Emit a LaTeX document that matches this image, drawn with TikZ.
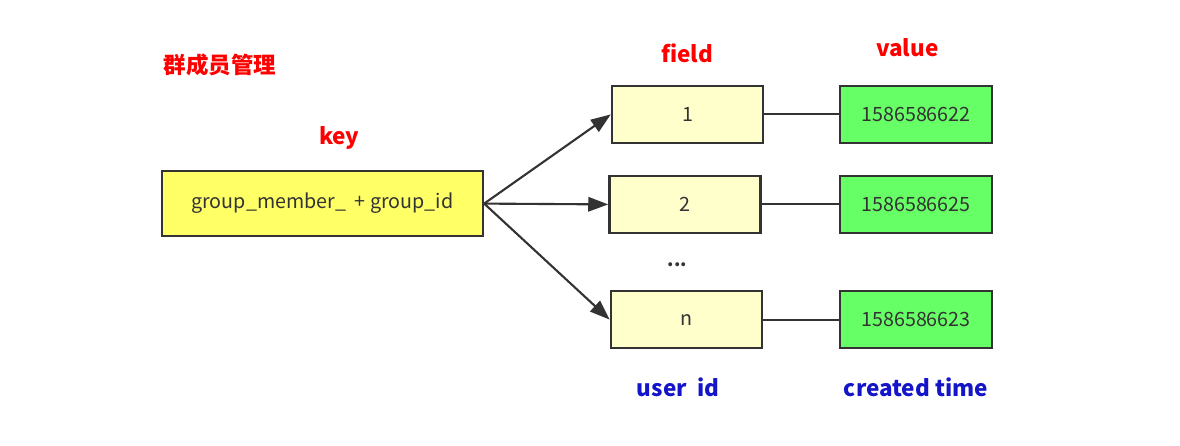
\documentclass[tikz,border=0pt]{standalone}
\usepackage{fontspec}
\setmainfont{Noto Sans CJK SC}
\usetikzlibrary{arrows.meta, positioning}

\definecolor{keyfill}{HTML}{FFFF66}
\definecolor{fieldfill}{HTML}{FFFFCC}
\definecolor{valfill}{HTML}{66FF66}
\definecolor{edgegray}{HTML}{333333}
\definecolor{labred}{HTML}{FF0000}
\definecolor{labblue}{HTML}{1414C8}

\tikzset{
  box/.style={draw=edgegray, line width=1.8pt, text=edgegray, inner sep=0pt,
    font=\fontsize{14}{16}\selectfont, minimum height=1.425cm},
  keybox/.style={box, fill=keyfill, minimum width=8.025cm, minimum height=1.625cm},
  fieldbox/.style={box, fill=fieldfill, minimum width=3.775cm},
  valbox/.style={box, fill=valfill, minimum width=3.8cm},
  redlab/.style={text=labred, font=\bfseries\fontsize{16}{19}\selectfont},
  bluelab/.style={text=labblue, font=\bfseries\fontsize{16}{19}\selectfont},
  link/.style={draw=edgegray, line width=1.5pt},
  arrow/.style={link, -{Triangle[length=0.5cm, width=0.36cm]}}
}

\begin{document}
\begin{tikzpicture}
\useasboundingbox (0,0) rectangle (29.5,-11.15);

% titles
\node[redlab] (title) at (5.5,-1.62) {群成员管理};
\node[redlab] (keylab) at (8.48,-3.45) {key};
\node[redlab] (fieldlab) at (17.18,-1.33) {field};
\node[redlab] (vallab) at (22.68,-1.18) {value};

% key
\node[keybox] (key) at (8.06,-5.09) {group\_member\_\ \ +\ group\_id};

% fields
\node[fieldbox] (f1) at (17.19,-2.86) {1};
\node[fieldbox] (f2) at (17.125,-5.11) {2};
\node[fieldbox] (fn) at (17.16,-7.99) {n};
\node[text=edgegray, font=\bfseries\fontsize{13}{15}\selectfont] (dots) at (16.93,-6.62) {...};

% values
\node[valbox] (v1) at (22.9,-2.86) {1586586622};
\node[valbox] (v2) at (22.9,-5.11) {1586586625};
\node[valbox] (vn) at (22.9,-7.99) {1586586623};

% connectors
\draw[arrow] (key.east) -- (f1.west);
\draw[arrow] (key.east) -- (f2.west);
\draw[arrow] (key.east) -- (fn.west);
\draw[link] (f1) -- (v1);
\draw[link] (f2) -- (v2);
\draw[link] (fn) -- (vn);

% bottom labels
\node[bluelab] (uid) at (16.95,-9.68) {user\ \ id};
\node[bluelab] (ctime) at (22.9,-9.68) {created time};
\end{tikzpicture}
\end{document}
